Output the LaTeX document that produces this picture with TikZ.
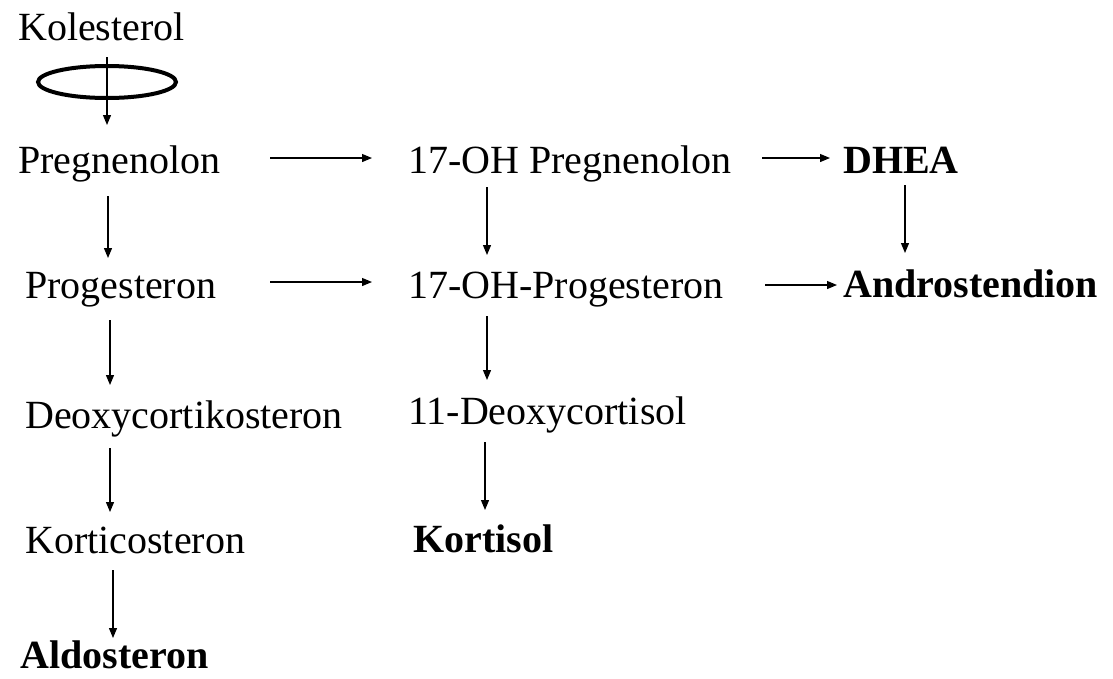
\documentclass[tikz,border=0pt]{standalone}
\usepackage{fontspec}
\setmainfont{Liberation Serif}
\usetikzlibrary{arrows.meta}
\tikzset{
  lbl/.style={inner sep=0pt, anchor=base west, font=\fontsize{40}{48}\selectfont},
  blbl/.style={lbl, font=\fontsize{40}{48}\selectfont\bfseries},
  arr/.style={line width=1.2pt, -{Triangle[width=8pt,length=10pt]}},
  ring/.style={line width=4pt}
}
\begin{document}
\begin{tikzpicture}[x=1pt, y=-1pt]
\useasboundingbox (0,0) rectangle (1113,678);
% compounds
\node[lbl]  (kol)   at (18,40)   {Kolesterol};
\node[lbl]  (preg)  at (18,173)  {Pregnenolon};
\node[lbl]  (ohp)   at (408,173) {17-OH Pregnenolon};
\node[blbl] (dhea)  at (843,173) {DHEA};
\node[lbl]  (prog)  at (25,298)  {Progesteron};
\node[lbl]  (ohprog) at (408,298) {17-OH-Progesteron};
\node[blbl] (andro) at (843,297) {Androstendion};
\node[lbl]  (doc)   at (25,428)  {Deoxycortikosteron};
\node[lbl]  (dcs)   at (408,424) {11-Deoxycortisol};
\node[lbl]  (kort)  at (25,553)  {Korticosteron};
\node[blbl] (kortisol) at (413,552) {Kortisol};
\node[blbl] (aldo)  at (20,668)  {Aldosteron};
% side-chain cleavage ring
\draw[ring] (107,82) ellipse [x radius=69, y radius=16];
% reaction arrows
\draw[arr] ([shift={(89,17)}]kol.base west) -- ([shift={(89,-48)}]preg.base west);
\draw[arr] ([shift={(252,-15)}]preg.base west) -- ([shift={(-36,-15)}]ohp.base west);
\draw[arr] ([shift={(354,-15)}]ohp.base west) -- ([shift={(-13,-15)}]dhea.base west);
\draw[arr] ([shift={(90,23)}]preg.base west) -- ([shift={(83,-40)}]prog.base west);
\draw[arr] ([shift={(79,14)}]ohp.base west) -- ([shift={(79,-43)}]ohprog.base west);
\draw[arr] ([shift={(62,12)}]dhea.base west) -- ([shift={(62,-44)}]andro.base west);
\draw[arr] ([shift={(245,-16)}]prog.base west) -- ([shift={(-36,-16)}]ohprog.base west);
\draw[arr] ([shift={(357,-13)}]ohprog.base west) -- ([shift={(-6,-12)}]andro.base west);
\draw[arr] ([shift={(85,22)}]prog.base west) -- ([shift={(85,-43)}]doc.base west);
\draw[arr] ([shift={(79,18)}]ohprog.base west) -- ([shift={(79,-44)}]dcs.base west);
\draw[arr] ([shift={(85,20)}]doc.base west) -- ([shift={(85,-41)}]kort.base west);
\draw[arr] ([shift={(77,18)}]dcs.base west) -- ([shift={(72,-42)}]kortisol.base west);
\draw[arr] ([shift={(88,17)}]kort.base west) -- ([shift={(93,-30)}]aldo.base west);
\end{tikzpicture}
\end{document}
